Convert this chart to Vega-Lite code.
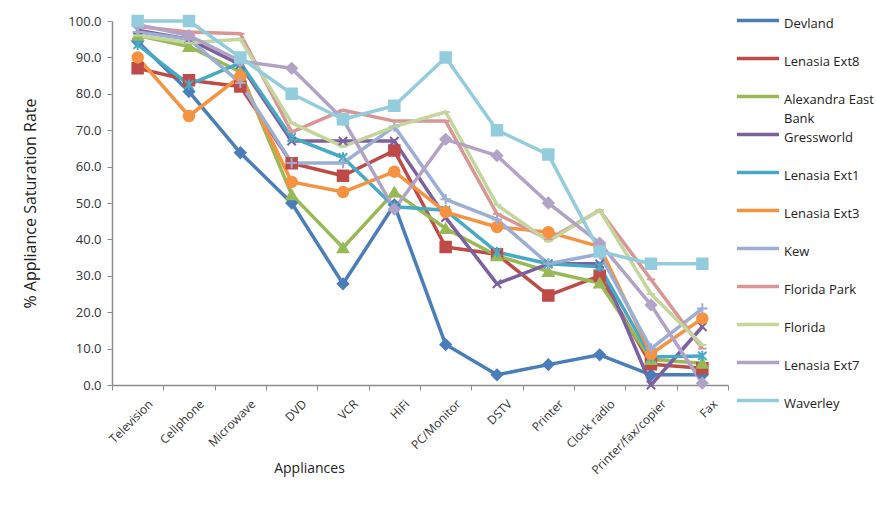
{
  "$schema": "https://vega.github.io/schema/vega-lite/v6.json",
  "width": 616,
  "height": 364,
  "autosize": {"type": "none"},
  "padding": {"left": 112, "top": 21, "right": 148, "bottom": 130},
  "background": "white",
  "config": {
    "view": {"stroke": null},
    "font": "Open Sans",
    "axis": {"labelFont": "Open Sans", "titleFont": "Open Sans", "labelColor": "#333333", "titleColor": "#222222", "domainColor": "#8c8c8c", "tickColor": "#8c8c8c", "domainWidth": 1.5, "grid": false},
    "legend": {"labelFont": "Open Sans"}
  },
  "data": {
    "values": [
      {"site": "Devland", "appliance": "Television", "rate": 94.4},
      {"site": "Devland", "appliance": "Cellphone", "rate": 80.6},
      {"site": "Devland", "appliance": "Microwave", "rate": 63.8},
      {"site": "Devland", "appliance": "DVD", "rate": 50.0},
      {"site": "Devland", "appliance": "VCR", "rate": 27.8},
      {"site": "Devland", "appliance": "HiFi", "rate": 49.5},
      {"site": "Devland", "appliance": "PC/Monitor", "rate": 11.1},
      {"site": "Devland", "appliance": "DSTV", "rate": 2.8},
      {"site": "Devland", "appliance": "Printer", "rate": 5.6},
      {"site": "Devland", "appliance": "Clock radio", "rate": 8.3},
      {"site": "Devland", "appliance": "Printer/fax/copier", "rate": 2.8},
      {"site": "Devland", "appliance": "Fax", "rate": 2.8},

      {"site": "Lenasia Ext8", "appliance": "Television", "rate": 87.0},
      {"site": "Lenasia Ext8", "appliance": "Cellphone", "rate": 83.7},
      {"site": "Lenasia Ext8", "appliance": "Microwave", "rate": 82.0},
      {"site": "Lenasia Ext8", "appliance": "DVD", "rate": 60.9},
      {"site": "Lenasia Ext8", "appliance": "VCR", "rate": 57.5},
      {"site": "Lenasia Ext8", "appliance": "HiFi", "rate": 64.4},
      {"site": "Lenasia Ext8", "appliance": "PC/Monitor", "rate": 37.9},
      {"site": "Lenasia Ext8", "appliance": "DSTV", "rate": 35.9},
      {"site": "Lenasia Ext8", "appliance": "Printer", "rate": 24.6},
      {"site": "Lenasia Ext8", "appliance": "Clock radio", "rate": 30.0},
      {"site": "Lenasia Ext8", "appliance": "Printer/fax/copier", "rate": 5.7},
      {"site": "Lenasia Ext8", "appliance": "Fax", "rate": 4.6},

      {"site": "Alexandra East Bank", "appliance": "Television", "rate": 96.0},
      {"site": "Alexandra East Bank", "appliance": "Cellphone", "rate": 93.0},
      {"site": "Alexandra East Bank", "appliance": "Microwave", "rate": 86.0},
      {"site": "Alexandra East Bank", "appliance": "DVD", "rate": 52.3},
      {"site": "Alexandra East Bank", "appliance": "VCR", "rate": 37.7},
      {"site": "Alexandra East Bank", "appliance": "HiFi", "rate": 53.0},
      {"site": "Alexandra East Bank", "appliance": "PC/Monitor", "rate": 43.0},
      {"site": "Alexandra East Bank", "appliance": "DSTV", "rate": 35.5},
      {"site": "Alexandra East Bank", "appliance": "Printer", "rate": 31.2},
      {"site": "Alexandra East Bank", "appliance": "Clock radio", "rate": 28.0},
      {"site": "Alexandra East Bank", "appliance": "Printer/fax/copier", "rate": 7.0},
      {"site": "Alexandra East Bank", "appliance": "Fax", "rate": 6.0},

      {"site": "Gressworld", "appliance": "Television", "rate": 97.5},
      {"site": "Gressworld", "appliance": "Cellphone", "rate": 95.0},
      {"site": "Gressworld", "appliance": "Microwave", "rate": 88.0},
      {"site": "Gressworld", "appliance": "DVD", "rate": 67.0},
      {"site": "Gressworld", "appliance": "VCR", "rate": 67.0},
      {"site": "Gressworld", "appliance": "HiFi", "rate": 67.0},
      {"site": "Gressworld", "appliance": "PC/Monitor", "rate": 46.0},
      {"site": "Gressworld", "appliance": "DSTV", "rate": 27.8},
      {"site": "Gressworld", "appliance": "Printer", "rate": 33.3},
      {"site": "Gressworld", "appliance": "Clock radio", "rate": 33.3},
      {"site": "Gressworld", "appliance": "Printer/fax/copier", "rate": 0.0},
      {"site": "Gressworld", "appliance": "Fax", "rate": 16.0},

      {"site": "Lenasia Ext1", "appliance": "Television", "rate": 93.5},
      {"site": "Lenasia Ext1", "appliance": "Cellphone", "rate": 82.5},
      {"site": "Lenasia Ext1", "appliance": "Microwave", "rate": 88.5},
      {"site": "Lenasia Ext1", "appliance": "DVD", "rate": 68.0},
      {"site": "Lenasia Ext1", "appliance": "VCR", "rate": 62.5},
      {"site": "Lenasia Ext1", "appliance": "HiFi", "rate": 49.0},
      {"site": "Lenasia Ext1", "appliance": "PC/Monitor", "rate": 48.0},
      {"site": "Lenasia Ext1", "appliance": "DSTV", "rate": 36.5},
      {"site": "Lenasia Ext1", "appliance": "Printer", "rate": 33.3},
      {"site": "Lenasia Ext1", "appliance": "Clock radio", "rate": 32.5},
      {"site": "Lenasia Ext1", "appliance": "Printer/fax/copier", "rate": 7.7},
      {"site": "Lenasia Ext1", "appliance": "Fax", "rate": 8.0},

      {"site": "Lenasia Ext3", "appliance": "Television", "rate": 90.0},
      {"site": "Lenasia Ext3", "appliance": "Cellphone", "rate": 73.9},
      {"site": "Lenasia Ext3", "appliance": "Microwave", "rate": 84.8},
      {"site": "Lenasia Ext3", "appliance": "DVD", "rate": 55.8},
      {"site": "Lenasia Ext3", "appliance": "VCR", "rate": 53.0},
      {"site": "Lenasia Ext3", "appliance": "HiFi", "rate": 58.6},
      {"site": "Lenasia Ext3", "appliance": "PC/Monitor", "rate": 47.5},
      {"site": "Lenasia Ext3", "appliance": "DSTV", "rate": 43.4},
      {"site": "Lenasia Ext3", "appliance": "Printer", "rate": 42.0},
      {"site": "Lenasia Ext3", "appliance": "Clock radio", "rate": 38.0},
      {"site": "Lenasia Ext3", "appliance": "Printer/fax/copier", "rate": 8.5},
      {"site": "Lenasia Ext3", "appliance": "Fax", "rate": 18.3},

      {"site": "Kew", "appliance": "Television", "rate": 97.0},
      {"site": "Kew", "appliance": "Cellphone", "rate": 95.0},
      {"site": "Kew", "appliance": "Microwave", "rate": 83.0},
      {"site": "Kew", "appliance": "DVD", "rate": 61.0},
      {"site": "Kew", "appliance": "VCR", "rate": 61.0},
      {"site": "Kew", "appliance": "HiFi", "rate": 71.0},
      {"site": "Kew", "appliance": "PC/Monitor", "rate": 51.0},
      {"site": "Kew", "appliance": "DSTV", "rate": 45.5},
      {"site": "Kew", "appliance": "Printer", "rate": 33.3},
      {"site": "Kew", "appliance": "Clock radio", "rate": 36.0},
      {"site": "Kew", "appliance": "Printer/fax/copier", "rate": 10.0},
      {"site": "Kew", "appliance": "Fax", "rate": 21.0},

      {"site": "Florida Park", "appliance": "Television", "rate": 98.5},
      {"site": "Florida Park", "appliance": "Cellphone", "rate": 97.0},
      {"site": "Florida Park", "appliance": "Microwave", "rate": 96.5},
      {"site": "Florida Park", "appliance": "DVD", "rate": 69.5},
      {"site": "Florida Park", "appliance": "VCR", "rate": 75.5},
      {"site": "Florida Park", "appliance": "HiFi", "rate": 72.5},
      {"site": "Florida Park", "appliance": "PC/Monitor", "rate": 72.5},
      {"site": "Florida Park", "appliance": "DSTV", "rate": 47.0},
      {"site": "Florida Park", "appliance": "Printer", "rate": 40.0},
      {"site": "Florida Park", "appliance": "Clock radio", "rate": 48.0},
      {"site": "Florida Park", "appliance": "Printer/fax/copier", "rate": 29.0},
      {"site": "Florida Park", "appliance": "Fax", "rate": 10.0},

      {"site": "Florida", "appliance": "Television", "rate": 96.0},
      {"site": "Florida", "appliance": "Cellphone", "rate": 94.0},
      {"site": "Florida", "appliance": "Microwave", "rate": 95.0},
      {"site": "Florida", "appliance": "DVD", "rate": 72.0},
      {"site": "Florida", "appliance": "VCR", "rate": 65.5},
      {"site": "Florida", "appliance": "HiFi", "rate": 71.0},
      {"site": "Florida", "appliance": "PC/Monitor", "rate": 75.0},
      {"site": "Florida", "appliance": "DSTV", "rate": 49.5},
      {"site": "Florida", "appliance": "Printer", "rate": 39.5},
      {"site": "Florida", "appliance": "Clock radio", "rate": 48.0},
      {"site": "Florida", "appliance": "Printer/fax/copier", "rate": 25.0},
      {"site": "Florida", "appliance": "Fax", "rate": 11.0},

      {"site": "Lenasia Ext7", "appliance": "Television", "rate": 99.0},
      {"site": "Lenasia Ext7", "appliance": "Cellphone", "rate": 96.0},
      {"site": "Lenasia Ext7", "appliance": "Microwave", "rate": 89.0},
      {"site": "Lenasia Ext7", "appliance": "DVD", "rate": 87.0},
      {"site": "Lenasia Ext7", "appliance": "VCR", "rate": 73.0},
      {"site": "Lenasia Ext7", "appliance": "HiFi", "rate": 48.3},
      {"site": "Lenasia Ext7", "appliance": "PC/Monitor", "rate": 67.5},
      {"site": "Lenasia Ext7", "appliance": "DSTV", "rate": 63.0},
      {"site": "Lenasia Ext7", "appliance": "Printer", "rate": 50.0},
      {"site": "Lenasia Ext7", "appliance": "Clock radio", "rate": 39.0},
      {"site": "Lenasia Ext7", "appliance": "Printer/fax/copier", "rate": 22.0},
      {"site": "Lenasia Ext7", "appliance": "Fax", "rate": 0.5},

      {"site": "Waverley", "appliance": "Television", "rate": 100.0},
      {"site": "Waverley", "appliance": "Cellphone", "rate": 100.0},
      {"site": "Waverley", "appliance": "Microwave", "rate": 90.0},
      {"site": "Waverley", "appliance": "DVD", "rate": 80.0},
      {"site": "Waverley", "appliance": "VCR", "rate": 73.0},
      {"site": "Waverley", "appliance": "HiFi", "rate": 76.7},
      {"site": "Waverley", "appliance": "PC/Monitor", "rate": 90.0},
      {"site": "Waverley", "appliance": "DSTV", "rate": 70.0},
      {"site": "Waverley", "appliance": "Printer", "rate": 63.3},
      {"site": "Waverley", "appliance": "Clock radio", "rate": 36.7},
      {"site": "Waverley", "appliance": "Printer/fax/copier", "rate": 33.3},
      {"site": "Waverley", "appliance": "Fax", "rate": 33.3}
    ]
  },
  "encoding": {
    "x": {
      "field": "appliance",
      "type": "nominal",
      "sort": null,
      "scale": {
        "type": "band",
        "paddingInner": 0,
        "paddingOuter": 0,
        "domain": ["Television", "Cellphone", "Microwave", "DVD", "VCR", "HiFi", "PC/Monitor", "DSTV", "Printer", "Clock radio", "Printer/fax/copier", "Fax"]
      },
      "axis": {
        "title": "Appliances",
        "titleFontSize": 14,
        "titleFontWeight": "normal",
        "titleX": 197,
        "titleY": 83,
        "titleAlign": "center",
        "titleBaseline": "middle",
        "labelAngle": -45,
        "labelAlign": "right",
        "labelBaseline": "top",
        "labelFontSize": 12,
        "labelOffset": 9,
        "labelPadding": 8,
        "tickBand": "extent",
        "tickSize": 5
      }
    },
    "y": {
      "field": "rate",
      "type": "quantitative",
      "scale": {"domain": [0, 100], "nice": false},
      "axis": {
        "title": "% Appliance Saturation Rate",
        "titleFontSize": 16,
        "titleFontWeight": "normal",
        "titleAngle": -90,
        "titleX": -82,
        "titleY": 182,
        "titleAlign": "center",
        "titleBaseline": "middle",
        "values": [0, 10, 20, 30, 40, 50, 60, 70, 80, 90, 100],
        "format": ".1f",
        "labelFontSize": 13,
        "labelPadding": 6,
        "tickSize": 5
      }
    }
  },
  "layer": [
    {
      "mark": {"type": "line", "strokeWidth": 3.5, "strokeJoin": "round"},
      "encoding": {
        "color": {
          "field": "site",
          "type": "nominal",
          "scale": {
            "domain": ["Devland", "Lenasia Ext8", "Alexandra East Bank", "Gressworld", "Lenasia Ext1", "Lenasia Ext3", "Kew", "Florida Park", "Florida", "Lenasia Ext7", "Waverley"],
            "range": ["#4a7ebb", "#be4b48", "#98b954", "#7d60a0", "#46aac5", "#f69240", "#9aaed6", "#d99694", "#c3d69b", "#b3a2c7", "#93cddd"]
          },
          "legend": {
            "title": null,
            "orient": "none",
            "legendX": 623,
            "legendY": -7,
            "symbolType": "stroke",
            "symbolSize": 1764,
            "symbolStrokeWidth": 3.5,
            "clipHeight": 13,
            "rowPadding": 2,
            "labelFontSize": 13,
            "labelColor": "#222222",
            "labelOffset": 3,
            "labelLimit": 200,
            "labelExpr": "datum.label == 'Alexandra East Bank' ? ['Alexandra East', 'Bank'] : [datum.label, '']",
            "encode": {
              "labels": {
                "update": {
                  "dy": {"value": 3},
                  "lineHeight": {"value": 19}
                }
              }
            }
          }
        }
      }
    },
    {
      "mark": {"type": "point", "filled": true, "strokeWidth": 2, "opacity": 1, "size": 110},
      "encoding": {
        "fill": {
          "field": "site",
          "type": "nominal",
          "legend": null,
          "scale": {
            "domain": ["Waverley", "Lenasia Ext7", "Florida", "Florida Park", "Kew", "Lenasia Ext3", "Lenasia Ext1", "Gressworld", "Alexandra East Bank", "Lenasia Ext8", "Devland"],
            "range": ["#93cddd", "#b3a2c7", "#c3d69b", "#d99694", "#9aaed6", "#f69240", "#46aac5", "#7d60a0", "#98b954", "#be4b48", "#4a7ebb"]
          }
        },
        "stroke": {
          "field": "site",
          "type": "nominal",
          "legend": null,
          "scale": {
            "domain": ["Waverley", "Lenasia Ext7", "Florida", "Florida Park", "Kew", "Lenasia Ext3", "Lenasia Ext1", "Gressworld", "Alexandra East Bank", "Lenasia Ext8", "Devland"],
            "range": ["#93cddd", "#b3a2c7", "#c3d69b", "#d99694", "#9aaed6", "#f69240", "#46aac5", "#7d60a0", "#98b954", "#be4b48", "#4a7ebb"]
          }
        },
        "shape": {
          "field": "site",
          "type": "nominal",
          "legend": null,
          "scale": {
            "domain": ["Waverley", "Lenasia Ext7", "Florida", "Florida Park", "Kew", "Lenasia Ext3", "Lenasia Ext1", "Gressworld", "Alexandra East Bank", "Lenasia Ext8", "Devland"],
            "range": ["square", "diamond", "M-0.8,0L0.8,0", "M-0.8,0L0.8,0", "M-1,0L1,0M0,-1L0,1", "circle", "M-0.8,-0.8L0.8,0.8M-0.8,0.8L0.8,-0.8M0,-1L0,1", "M-0.8,-0.8L0.8,0.8M-0.8,0.8L0.8,-0.8", "triangle-up", "square", "diamond"]
          }
        }
      }
    }
  ]
}
